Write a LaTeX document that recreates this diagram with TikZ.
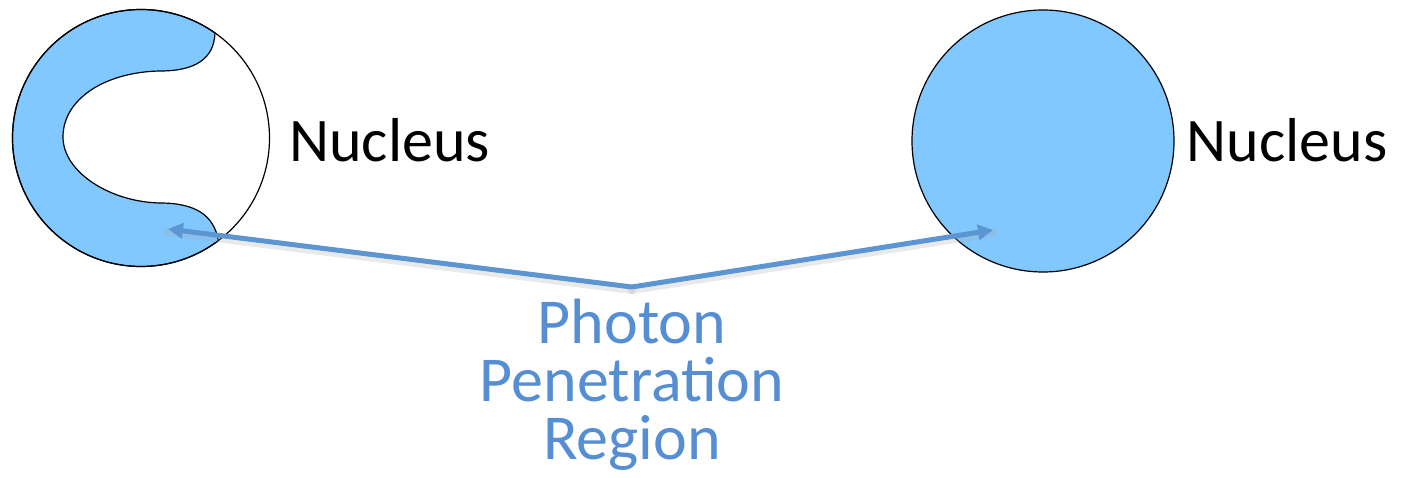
\documentclass[tikz,border=0pt]{standalone}
\usepackage{fontspec}
\setmainfont{Carlito}
\usetikzlibrary{arrows.meta,positioning}
\definecolor{nucfill}{RGB}{128,200,255}
\definecolor{raycol}{RGB}{92,150,210}
\definecolor{labelcol}{RGB}{86,142,212}
\newcommand{\nucradius}{128.5}

\begin{document}
\begin{tikzpicture}[x=1pt, y=1pt,
    nucleus/.style={circle, draw=black, line width=1.2pt, inner sep=0pt},
    nuclabel/.style={inner sep=0pt, anchor=base west, font=\fontsize{62}{66}\selectfont},
    ray/.style={draw=raycol, line width=5pt, -{Triangle[length=15pt,width=15pt]}},
    rayshadow/.style={draw=black!35, opacity=0.25, line width=8pt, line cap=round}
]
    \useasboundingbox (0,0) rectangle (1404,477);

    % left nucleus with the penetrated C-shaped region
    \coordinate (lc) at (141,339);
    \fill[nucfill, draw=black, line width=1.2pt]
        ([shift={(55:\nucradius)}]lc) arc[start angle=55, end angle=307, radius=\nucradius]
        .. controls (214,262) and (195,274) .. (160,274)
        .. controls (110,275) and (63,305) .. (63,340)
        .. controls (63,378) and (105,405) .. (160,406)
        .. controls (195,406) and (214,418) .. (215,444) -- cycle;
    \node[nucleus, minimum size=257pt] (lnuc) at (lc) {};

    % right nucleus, fully penetrated
    \node[nucleus, fill=nucfill, minimum size=262pt] (rnuc) at (1043,336) {};

    \node[nuclabel] (ltext) at ([xshift=19pt, yshift=-24pt]lnuc.east) {Nucleus};
    \node[nuclabel] (rtext) at ([xshift=12pt, yshift=-21pt]rnuc.east) {Nucleus};

    \coordinate (apex) at (632,190);
    \coordinate (ltip) at (168,248);
    \coordinate (rtip) at (993,247);

    \draw[rayshadow] ([yshift=-3pt]apex) -- ([yshift=-3pt]ltip);
    \draw[rayshadow] ([yshift=-3pt]apex) -- ([yshift=-3pt]rtip);
    \draw[ray] (apex) -- (ltip);
    \draw[ray] (apex) -- (rtip);

    \node[inner sep=0pt, below=12pt of apex, align=center, text=labelcol,
        font=\fontsize{64}{58}\selectfont] (region)
        {Photon\\Penetration\\Region};
\end{tikzpicture}
\end{document}
